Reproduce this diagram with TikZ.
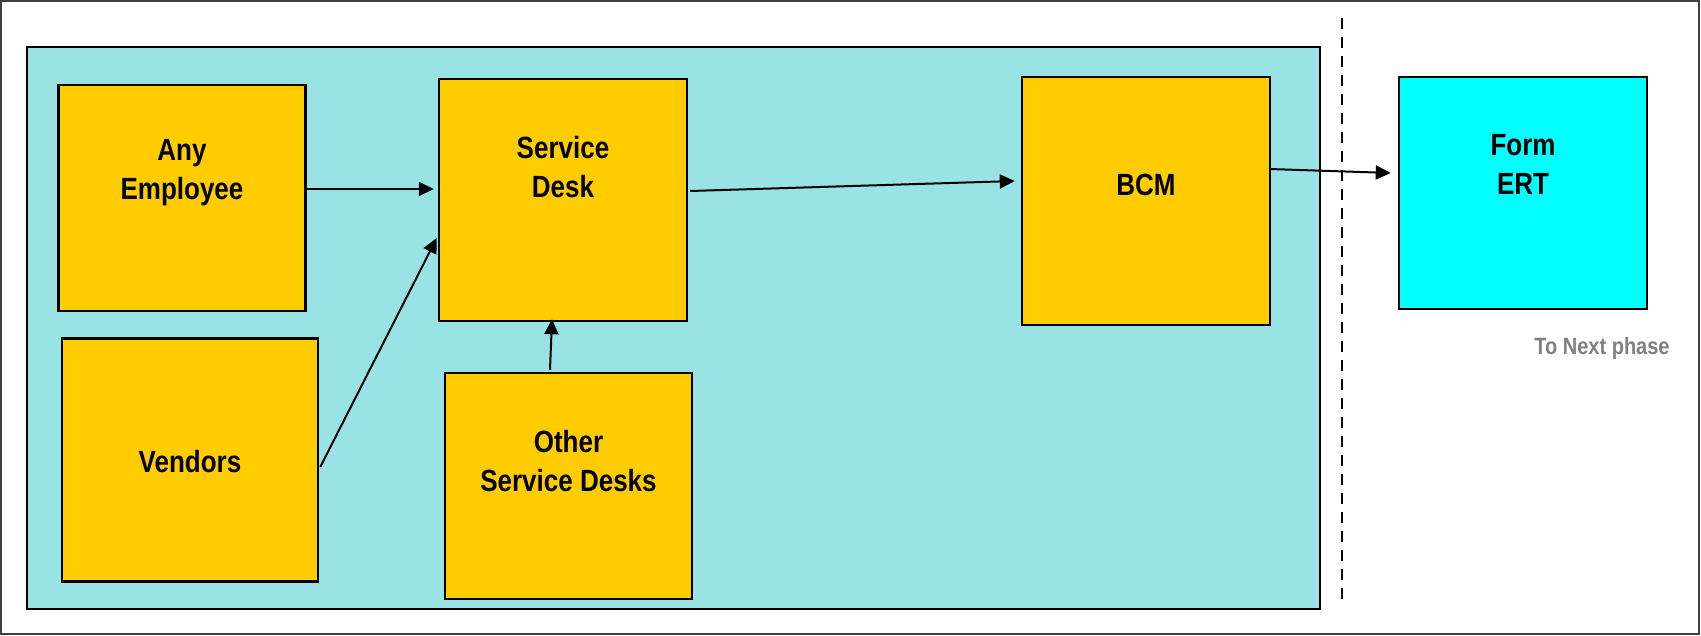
\documentclass[tikz,border=0pt]{standalone}
\usepackage{fontspec}
\setmainfont{Liberation Sans}
\usetikzlibrary{arrows.meta}
\definecolor{panelc}{RGB}{153,227,229}
\definecolor{boxy}{RGB}{255,204,0}
\definecolor{ertc}{RGB}{0,255,255}
\definecolor{graytxt}{RGB}{128,128,128}
\newcommand{\vsc}[1]{\scalebox{1}[1.18]{#1}}
\tikzset{
  ybox/.style={draw=black, line width=2.5pt, fill=boxy, inner sep=0pt},
  cbox/.style={draw=black, line width=2.5pt, fill=ertc, inner sep=0pt},
  lbl/.style={font=\fontsize{26}{39}\selectfont\bfseries, align=center, inner sep=0pt},
  arr/.style={line width=2pt, -{Triangle[length=15pt,width=14pt]}},
}
\begin{document}
\begin{tikzpicture}[x=1pt,y=-1pt]
\useasboundingbox (0,0) rectangle (1701,636);
\fill[white] (0,0) rectangle (1701,636);
\draw[line width=1.5pt, draw=black!75] (1,1) rectangle (1699,634);
\draw[line width=2pt, fill=panelc] (27,47) rectangle (1320,609);
\draw[line width=2pt, dash pattern=on 11pt off 8pt] (1342,18) -- (1342,604);

\node[ybox, minimum width=247pt, minimum height=226pt] (emp) at (182,198) {};
\node[ybox, minimum width=248pt, minimum height=242pt] (sd) at (563,200) {};
\node[ybox, minimum width=256pt, minimum height=243pt] (ven) at (190,460) {};
\node[ybox, minimum width=247pt, minimum height=226pt] (osd) at (568.5,486) {};
\node[ybox, minimum width=248pt, minimum height=248pt] (bcm) at (1146,201) {};
\node[cbox, minimum width=248pt, minimum height=232pt] (ert) at (1523,193) {};

\node[lbl] (empT) at ([yshift=25pt]emp.center) {\vsc{Any}\\\vsc{Employee}};
\node[lbl] (sdT) at ([yshift=32.5pt]sd.center) {\vsc{Service}\\\vsc{Desk}};
\node[lbl] (venT) at ([yshift=-2pt]ven.center) {\vsc{Vendors}};
\node[lbl] (osdT) at ([yshift=25pt]osd.center) {\vsc{Other}\\\vsc{Service Desks}};
\node[lbl] (bcmT) at ([yshift=16.5pt]bcm.center) {\vsc{BCM}};
\node[lbl] (ertT) at ([yshift=28.5pt]ert.center) {\vsc{Form}\\\vsc{ERT}};
\node[font=\fontsize{20}{24}\selectfont\bfseries, text=graytxt, inner sep=0pt] (next) at (1602,348) {\vsc{To Next phase}};

\draw[arr] ([yshift=9pt]emp.east) -- ([xshift=-4pt,yshift=11pt]sd.west);
\draw[arr] ([xshift=1pt,yshift=-7pt]ven.east) -- ([xshift=-1pt,yshift=-38pt]sd.west);
\draw[arr] ([xshift=-18.5pt,yshift=2pt]osd.north) -- ([xshift=-11pt,yshift=3pt]sd.south);
\draw[arr] ([xshift=2pt,yshift=9pt]sd.east) -- ([xshift=-6pt,yshift=20pt]bcm.west);
\draw[arr] ([xshift=-2pt,yshift=32pt]bcm.east) -- ([xshift=-7pt,yshift=20pt]ert.west);
\end{tikzpicture}
\end{document}
